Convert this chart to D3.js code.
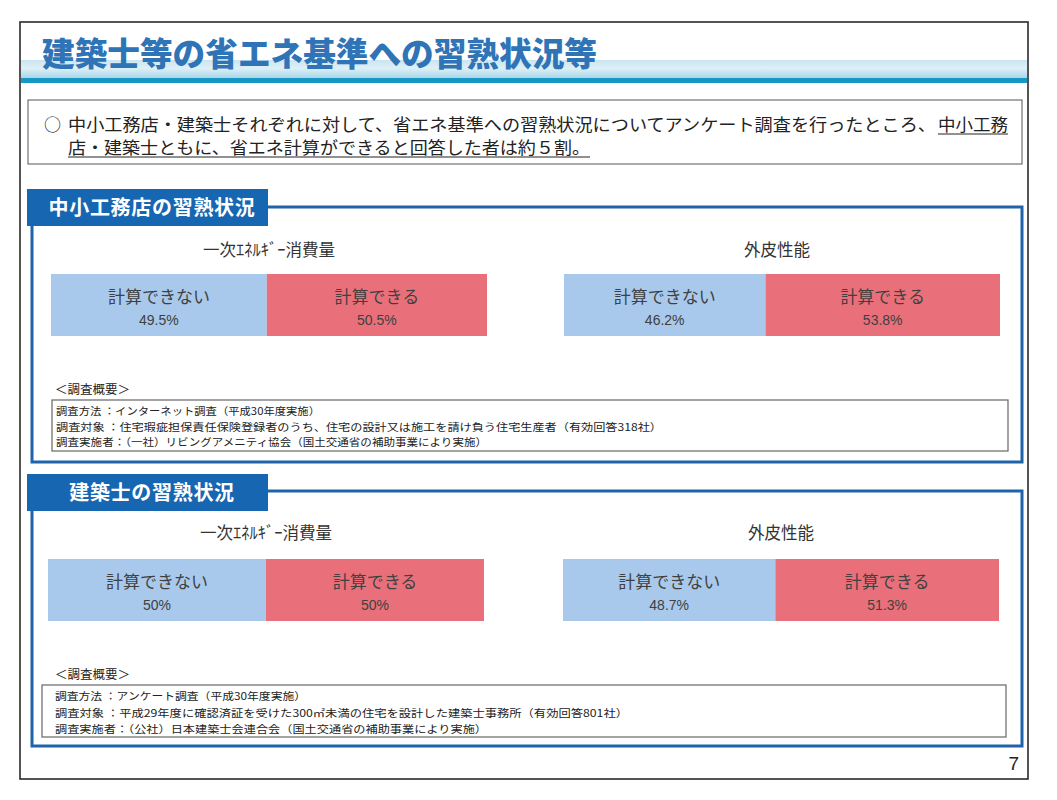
<!DOCTYPE html>
<html>
<head>
<meta charset="utf-8">
<script src="https://cdn.jsdelivr.net/npm/d3@7"></script>
<style>
  body { margin: 0; background: #fff; }
  text { font-family: "Noto Sans CJK JP", "Noto Sans", sans-serif; }
</style>
</head>
<body>
<div id="chart"></div>
<script>
// data
const pageTitle = '建築士等の省エネ基準への習熟状況等';
const summaryLine1 = '中小工務店・建築士それぞれに対して、省エネ基準への習熟状況についてアンケート調査を行ったところ、';
const summaryUnder1 = '中小工務';
const summaryUnder2 = '店・建築士ともに、省エネ計算ができると回答した者は約５割。';
const sections = ['中小工務店の習熟状況', '建築士の習熟状況'];
const metrics = ['一次ｴﾈﾙｷﾞｰ消費量', '外皮性能'];
const categories = ['計算できない', '計算できる'];
const cannotValues = [[49.5, 46.2], [50, 48.7]];
const canValues = [[50.5, 53.8], [50, 51.3]];
const noteHeading = '＜調査概要＞';
const notes = [
  ['調査方法 ：インターネット調査（平成30年度実施）',
   '調査対象 ：住宅瑕疵担保責任保険登録者のうち、住宅の設計又は施工を請け負う住宅生産者（有効回答318社）',
   '調査実施者：（一社）リビングアメニティ協会（国土交通省の補助事業により実施）'],
  ['調査方法 ：アンケート調査（平成30年度実施）',
   '調査対象 ：平成29年度に確認済証を受けた300㎡未満の住宅を設計した建築士事務所（有効回答801社）',
   '調査実施者：（公社）日本建築士会連合会（国土交通省の補助事業により実施）']
];
const pageNo = '7';

const colors = ['#a8c9eb', '#e9707a'];

// layout
const W = 1057, H = 800;
const svg = d3.select('#chart').append('svg').attr('width', W).attr('height', H);

const defs = svg.append('defs');
const grad = defs.append('linearGradient').attr('id', 'band').attr('x1', 0).attr('y1', 0).attr('x2', 0).attr('y2', 1);
grad.append('stop').attr('offset', '0%').attr('stop-color', '#c9e5f1');
grad.append('stop').attr('offset', '45%').attr('stop-color', '#dff0f7');
grad.append('stop').attr('offset', '100%').attr('stop-color', '#a9d7ea');

// outer frame
svg.append('rect').attr('x', 20).attr('y', 22).attr('width', 1008).attr('height', 757)
  .attr('fill', '#fff').attr('stroke', '#2a2a2a').attr('stroke-width', 1.6);

// title band
svg.append('rect').attr('x', 21).attr('y', 60).attr('width', 1006).attr('height', 18).attr('fill', 'url(#band)');
svg.append('rect').attr('x', 21).attr('y', 78).attr('width', 1006).attr('height', 5).attr('fill', '#1797c6');
svg.append('text').attr('x', 42).attr('y', 66)
  .attr('font-size', 33).attr('font-weight', 900).attr('fill', '#2f74b7')
  .attr('textLength', 555).attr('lengthAdjust', 'spacingAndGlyphs')
  .text(pageTitle);

// summary box
svg.append('rect').attr('x', 28).attr('y', 100).attr('width', 994).attr('height', 64)
  .attr('fill', 'none').attr('stroke', '#555').attr('stroke-width', 1);
svg.append('text').attr('x', 44).attr('y', 131).attr('font-size', 17).attr('fill', '#222').text('○');
svg.append('text').attr('x', 68).attr('y', 131).attr('font-size', 17).attr('fill', '#222')
  .attr('textLength', 868).attr('lengthAdjust', 'spacingAndGlyphs').text(summaryLine1);
svg.append('text').attr('x', 938).attr('y', 131).attr('font-size', 17).attr('fill', '#222')
  .attr('textLength', 70).attr('lengthAdjust', 'spacingAndGlyphs').text(summaryUnder1);
svg.append('text').attr('x', 68).attr('y', 154).attr('font-size', 17).attr('fill', '#222')
  .attr('textLength', 522).attr('lengthAdjust', 'spacingAndGlyphs').text(summaryUnder2);
[[938, 1008, 134], [68, 590, 157]].forEach(([a, b, y]) => {
  svg.append('line').attr('x1', a).attr('x2', b).attr('y1', y).attr('y2', y)
    .attr('stroke', '#222').attr('stroke-width', 1);
});

// section geometry
const secLayout = [
  { tabY: 189, frameTop: 207, frameBottom: 462, titleY: 256, barY: 274, barH: 62, barX: [51, 564],
    headY: 394, boxX: 52, boxY: 400, boxW: 956, boxH: 51, lineY: [415, 431, 446], textX: 56,
    lineW: [264, 606, 431] },
  { tabY: 474, frameTop: 491, frameBottom: 746, titleY: 539, barY: 559, barH: 62, barX: [48, 563],
    headY: 679, boxX: 42, boxY: 685, boxW: 964, boxH: 52, lineY: [700, 717, 733], textX: 55,
    lineW: [251, 573, 432] }
];
const barW = 436;
const x = d3.scaleLinear().domain([0, 100]).range([0, barW]);

sections.forEach((name, si) => {
  const L = secLayout[si];
  // blue frame
  svg.append('rect').attr('x', 32).attr('y', L.frameTop).attr('width', 990).attr('height', L.frameBottom - L.frameTop)
    .attr('fill', 'none').attr('stroke', '#1f63aa').attr('stroke-width', 3);
  // tab
  svg.append('rect').attr('x', 27).attr('y', L.tabY).attr('width', 241).attr('height', 37).attr('fill', '#1766b1');
  svg.append('text').attr('x', 152).attr('y', L.tabY + 26).attr('text-anchor', 'middle')
    .attr('font-size', 20).attr('font-weight', 700).attr('fill', '#fff')
    .attr('letter-spacing', 0.7).text(name);

  metrics.forEach((m, mi) => {
    const g = svg.append('g').attr('transform', `translate(${L.barX[mi]},${L.barY})`);
    const vals = [cannotValues[si][mi], canValues[si][mi]];
    const segs = [{ c: categories[0], v: vals[0], x0: 0, x1: vals[0] },
                  { c: categories[1], v: vals[1], x0: vals[0], x1: vals[0] + vals[1] }];
    svg.append('text').attr('x', L.barX[mi] + barW / 2 - (mi === 1 && si === 0 ? 5 : 0)).attr('y', L.titleY)
      .attr('text-anchor', 'middle').attr('font-size', 16.5).attr('fill', '#333').text(m);
    g.selectAll('rect').data(segs).enter().append('rect')
      .attr('x', d => x(d.x0)).attr('y', 0)
      .attr('width', d => x(d.x1) - x(d.x0)).attr('height', L.barH)
      .attr('fill', (d, i) => colors[i]);
    g.selectAll('text.cat').data(segs).enter().append('text').attr('class', 'cat')
      .attr('x', d => (x(d.x0) + x(d.x1)) / 2).attr('y', 29)
      .attr('text-anchor', 'middle').attr('font-size', 17).attr('fill', '#404040')
      .text(d => d.c);
    g.selectAll('text.pct').data(segs).enter().append('text').attr('class', 'pct')
      .attr('x', d => (x(d.x0) + x(d.x1)) / 2).attr('y', 51)
      .attr('text-anchor', 'middle').attr('font-size', 14).attr('fill', '#404040')
      .style('font-family', '"Liberation Sans Narrow", "Liberation Sans", Arial, sans-serif')
      .text(d => d.v + '%');
  });

  // survey notes
  svg.append('text').attr('x', 55).attr('y', L.headY).attr('font-size', 12).attr('fill', '#222')
    .attr('textLength', 75).attr('lengthAdjust', 'spacingAndGlyphs').text(noteHeading);
  svg.append('rect').attr('x', L.boxX).attr('y', L.boxY).attr('width', L.boxW).attr('height', L.boxH)
    .attr('fill', 'none').attr('stroke', '#666').attr('stroke-width', 1.2);
  notes[si].forEach((t, li) => {
    svg.append('text').attr('x', L.textX).attr('y', L.lineY[li]).attr('font-size', 10.5).attr('fill', '#222')
      .attr('textLength', L.lineW[li]).attr('lengthAdjust', 'spacingAndGlyphs').text(t);
  });
});

svg.append('text').attr('x', 1019).attr('y', 770).attr('text-anchor', 'end')
  .attr('font-size', 19).attr('fill', '#222')
  .style('font-family', '"Liberation Sans", Arial, sans-serif').text(pageNo);
</script>
</body>
</html>
